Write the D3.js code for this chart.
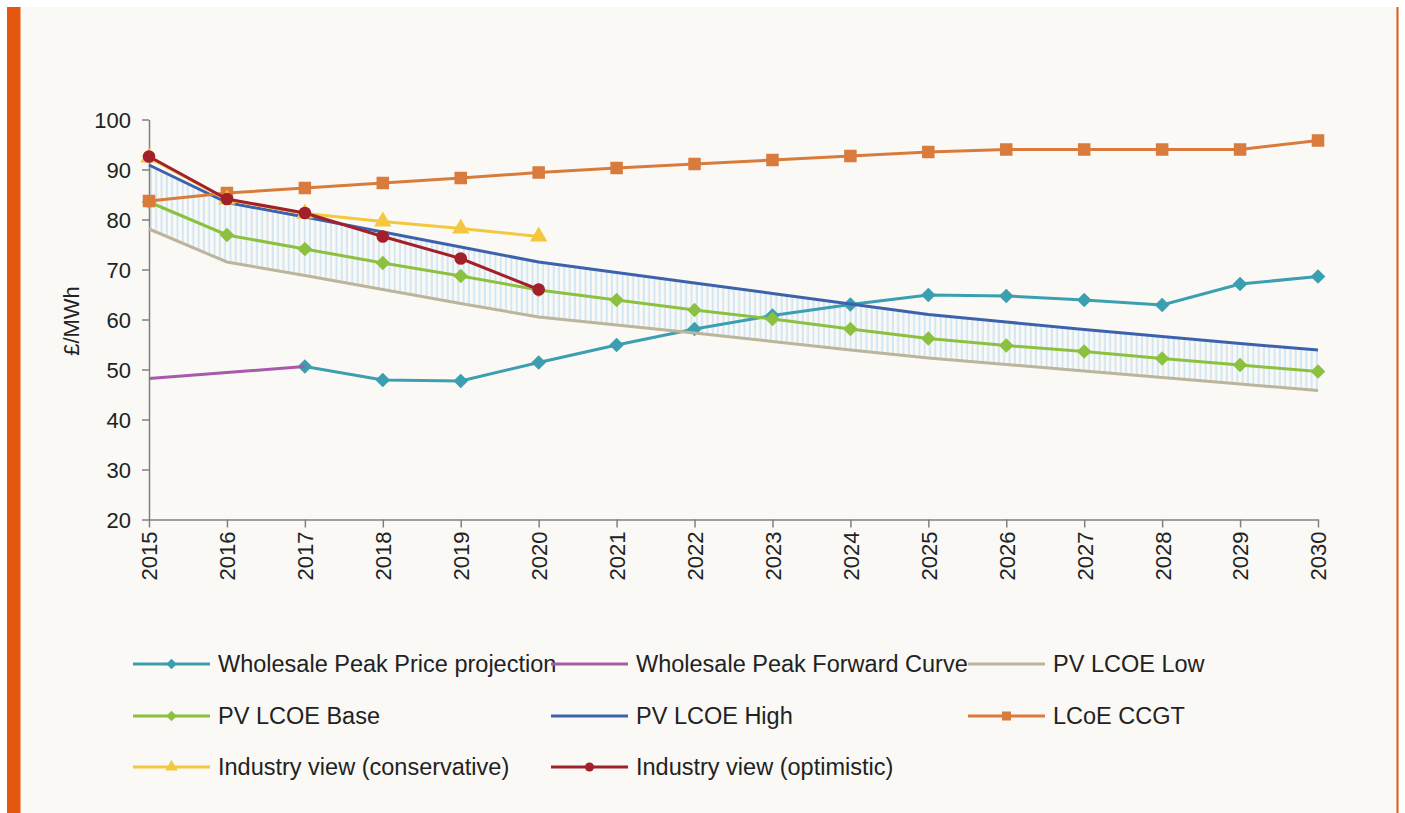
<!DOCTYPE html>
<html>
<head>
<meta charset="utf-8">
<script src="https://cdn.jsdelivr.net/npm/d3@7/dist/d3.min.js"></script>
<style>
body { margin: 0; background: #ffffff; }
svg { display: block; font-family: "Liberation Sans", Arial, sans-serif; }
.axis path, .axis line { stroke: #808080; stroke-width: 1.5; }
.axis text { fill: #222222; font-size: 22px; }
.legend text { fill: #222222; font-size: 23.5px; }
</style>
</head>
<body>
<svg id="chart" width="1405" height="813"></svg>
<script>
var years = [2015, 2016, 2017, 2018, 2019, 2020, 2021, 2022, 2023, 2024, 2025, 2026, 2027, 2028, 2029, 2030];
var yTicks = [20, 30, 40, 50, 60, 70, 80, 90, 100];

var wholesaleProjection = [null, null, 50.6, 47.9, 47.7, 51.4, 54.9, 58.1, 60.8, 63.0, 64.9, 64.7, 63.9, 62.9, 67.1, 68.6];
var wholesaleForward = [48.2, 49.4, 50.6, null, null, null, null, null, null, null, null, null, null, null, null, null];
var pvLow = [78.1, 71.5, 68.8, 66.0, 63.2, 60.5, 58.9, 57.3, 55.6, 53.9, 52.3, 51.0, 49.7, 48.4, 47.1, 45.8];
var pvBase = [83.5, 76.9, 74.1, 71.3, 68.7, 65.9, 63.9, 61.9, 60.1, 58.1, 56.2, 54.8, 53.6, 52.2, 50.9, 49.6];
var pvHigh = [90.9, 83.4, 80.5, 77.5, 74.5, 71.5, 69.4, 67.3, 65.2, 63.1, 61.0, 59.5, 58.0, 56.6, 55.2, 53.9];
var ccgt = [83.7, 85.3, 86.3, 87.3, 88.3, 89.4, 90.3, 91.1, 91.9, 92.7, 93.5, 94.0, 94.0, 94.0, 94.0, 95.8];
var industryConservative = [92.4, 84.0, 81.2, 79.6, 78.2, 76.6, null, null, null, null, null, null, null, null, null, null];
var industryOptimistic = [92.6, 84.1, 81.3, 76.6, 72.2, 66.0, null, null, null, null, null, null, null, null, null, null];

var seriesNames = ["Wholesale Peak Price projection", "Wholesale Peak Forward Curve", "PV LCOE Low",
	"PV LCOE Base", "PV LCOE High", "LCoE CCGT", "Industry view (conservative)", "Industry view (optimistic)"];
var seriesColors = ["#3b9fb1", "#a65aa8", "#bcb59c", "#8cc13f", "#3d62ad", "#d97b3d", "#f3c83f", "#a3202b"];
var seriesMarkers = ["diamond", "none", "none", "diamond", "none", "square", "triangle", "circle"];
var seriesValues = [wholesaleProjection, wholesaleForward, pvLow, pvBase, pvHigh, ccgt, industryConservative, industryOptimistic];

var svg = d3.select("#chart");

// panel background and orange edges
svg.append("rect").attr("x", 7).attr("y", 7).attr("width", 1391).attr("height", 806).attr("fill", "#faf9f5");
svg.append("rect").attr("x", 7).attr("y", 7).attr("width", 13.5).attr("height", 806).attr("fill", "#e5560e");
svg.append("rect").attr("x", 1396.5).attr("y", 7).attr("width", 2).attr("height", 806).attr("fill", "#e5560e");

var x = d3.scaleLinear().domain([2015, 2030]).range([149, 1318]);
var y = d3.scaleLinear().domain([20, 100]).range([519.5, 119.5]);

// hatched band between PV LCOE Low and High
var defs = svg.append("defs");
var pattern = defs.append("pattern")
	.attr("id", "hatch")
	.attr("patternUnits", "userSpaceOnUse")
	.attr("width", 5.3)
	.attr("height", 10);
pattern.append("rect").attr("x", 1.5).attr("y", 0).attr("width", 2).attr("height", 10).attr("fill", "#d3e6f3");

var band = d3.area()
	.x(function(d, i) { return x(years[i]); })
	.y0(function(d, i) { return y(pvLow[i]); })
	.y1(function(d, i) { return y(pvHigh[i]); });

svg.append("path")
	.datum(years)
	.attr("d", band)
	.attr("fill", "url(#hatch)");

// axes
var yAxis = d3.axisLeft(y).tickValues(yTicks).tickSize(7).tickPadding(11).tickSizeOuter(0);
svg.append("g")
	.attr("class", "axis")
	.attr("transform", "translate(149,0)")
	.call(yAxis)
	.selectAll("text")
	.attr("dy", "0.36em");

var xAxis = d3.axisBottom(x).tickValues(years).tickFormat(d3.format("d")).tickSize(8).tickSizeOuter(0);
var xg = svg.append("g")
	.attr("class", "axis")
	.attr("transform", "translate(0,519.5)")
	.call(xAxis);
xg.selectAll("text")
	.attr("transform", "rotate(-90)")
	.attr("text-anchor", "end")
	.attr("x", -12)
	.attr("y", 0)
	.attr("dy", "0.36em");

svg.append("text")
	.attr("transform", "translate(79,321) rotate(-90)")
	.attr("text-anchor", "middle")
	.attr("font-size", "22px")
	.attr("fill", "#222222")
	.text("£/MWh");

function markerPath(type, size) {
	if (type == "diamond") return d3.symbol().type(d3.symbolDiamond2).size(size * 1.1)();
	if (type == "square") return d3.symbol().type(d3.symbolSquare).size(size * 1.25)();
	if (type == "triangle") return d3.symbol().type(d3.symbolTriangle).size(size * 1.05)();
	if (type == "circle") return d3.symbol().type(d3.symbolCircle).size(size)();
	return null;
}

var line = d3.line()
	.defined(function(d) { return d.v != null; })
	.x(function(d) { return x(d.year); })
	.y(function(d) { return y(d.v); });

seriesValues.forEach(function(values, s) {
	var pts = values.map(function(v, i) { return {year: years[i], v: v}; });
	var g = svg.append("g");
	g.append("path")
		.datum(pts)
		.attr("d", line)
		.attr("fill", "none")
		.attr("stroke", seriesColors[s])
		.attr("stroke-width", 3);

	if (seriesMarkers[s] != "none") {
		g.selectAll(".mk")
			.data(pts.filter(function(d) { return d.v != null; }))
			.enter()
			.append("path")
			.attr("d", markerPath(seriesMarkers[s], 125))
			.attr("transform", function(d) { return "translate(" + x(d.year) + "," + y(d.v) + ")"; })
			.attr("fill", seriesColors[s]);
	}
});

// legend
var legendCols = [133, 551, 968];
var legendRows = [664, 716, 767];
var legend = svg.append("g").attr("class", "legend");
seriesNames.forEach(function(name, s) {
	var lx = legendCols[s % 3];
	var ly = legendRows[Math.floor(s / 3)];
	var item = legend.append("g");
	item.append("line")
		.attr("x1", lx).attr("x2", lx + 77)
		.attr("y1", ly).attr("y2", ly)
		.attr("stroke", seriesColors[s])
		.attr("stroke-width", 3);
	if (seriesMarkers[s] != "none") {
		item.append("path")
			.attr("d", markerPath(seriesMarkers[s], 65))
			.attr("transform", "translate(" + (lx + 38.5) + "," + ly + ")")
			.attr("fill", seriesColors[s]);
	}
	item.append("text")
		.attr("x", lx + 85)
		.attr("y", ly)
		.attr("dy", "0.36em")
		.text(name);
});
</script>
</body>
</html>
